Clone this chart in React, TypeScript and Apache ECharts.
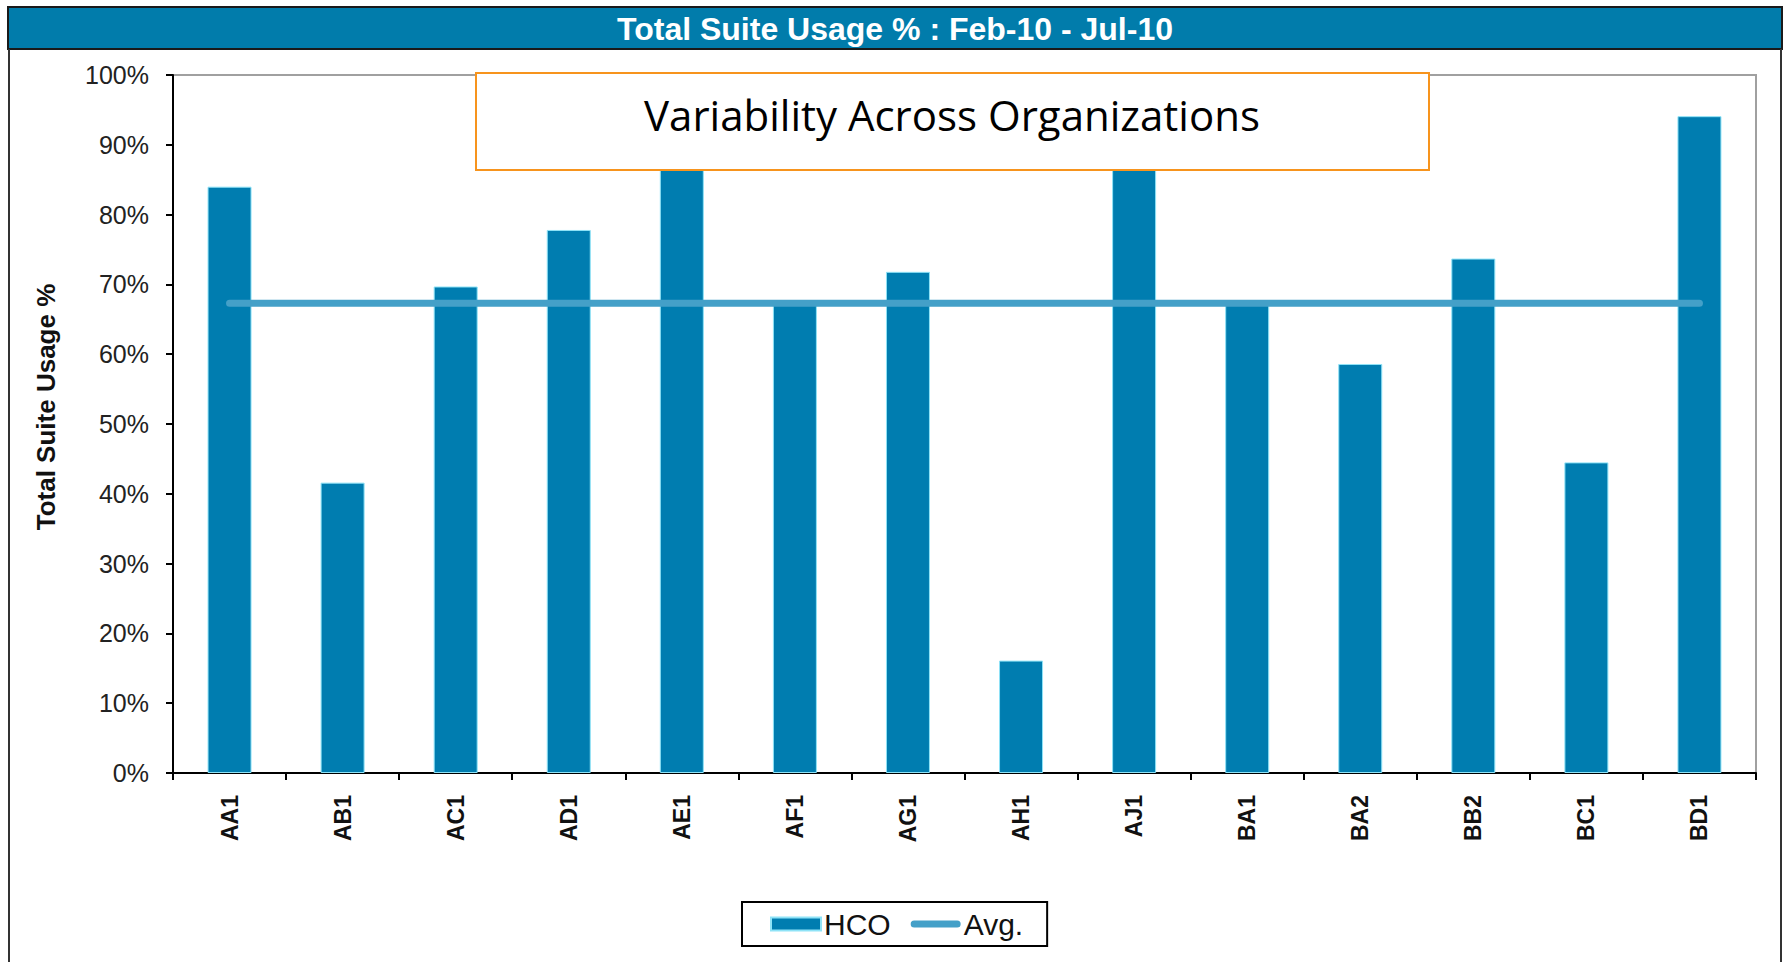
import React, { useEffect, useRef } from "react";
import * as echarts from "echarts";

const categories = ["AA1", "AB1", "AC1", "AD1", "AE1", "AF1", "AG1", "AH1", "AJ1", "BA1", "BA2", "BB2", "BC1", "BD1"];
const hcoValues = [84.0, 41.6, 69.7, 77.8, 88.0, 67.5, 71.8, 16.1, 90.0, 67.5, 58.6, 73.7, 44.5, 94.1];
const avgValues = [67.3, 67.3, 67.3, 67.3, 67.3, 67.3, 67.3, 67.3, 67.3, 67.3, 67.3, 67.3, 67.3, 67.3];
const yTicks = [0, 10, 20, 30, 40, 50, 60, 70, 80, 90, 100];

const titleText = "Total Suite Usage % : Feb-10 - Jul-10";
const calloutText = "Variability Across Organizations";
const yAxisName = "Total Suite Usage %";

const FONT = "Liberation Sans, Arial, sans-serif";

export default function App() {
  const ref = useRef<HTMLDivElement>(null);
  useEffect(() => {
    if (!ref.current) return;
    const chart = echarts.init(ref.current, undefined, { renderer: "svg" });
    const W = 1784;
    chart.setOption({
      animation: false,
      backgroundColor: "#ffffff",
      textStyle: { fontFamily: FONT },
      grid: {
        left: 173,
        top: 75,
        right: 28,
        bottom: 189,
        show: true,
        borderColor: "#a0a0a0",
        borderWidth: 2,
        backgroundColor: "transparent",
      },
      legend: {
        top: 902,
        left: 742,
        data: [
          { name: "HCO", icon: "rect" },
          {
            name: "Avg.",
            icon: "path://M0,0 M50,13 M3.5,3 L46.5,3 A3.5,3.5 0 0 1 46.5,10 L3.5,10 A3.5,3.5 0 0 1 3.5,3 Z",
          },
        ],
        borderColor: "#000",
        borderWidth: 2,
        padding: [7, 24, 7, 28],
        itemGap: 20,
        itemWidth: 50,
        itemHeight: 13,
        textStyle: { fontSize: 30, color: "#111", fontFamily: FONT, padding: [0, 0, 0, -2] },
      },
      xAxis: {
        type: "category",
        data: categories,
        boundaryGap: true,
        axisLine: { lineStyle: { color: "#000", width: 2 } },
        axisTick: { show: true, length: 7, lineStyle: { color: "#000", width: 2 } },
        axisLabel: {
          rotate: 90,
          margin: 22,
          fontSize: 23,
          fontWeight: "bold",
          color: "#111",
          fontFamily: FONT,
        },
        splitLine: { show: false },
      },
      yAxis: {
        type: "value",
        min: yTicks[0],
        max: yTicks[yTicks.length - 1],
        interval: 10,
        axisLine: { show: true, lineStyle: { color: "#000", width: 2 } },
        axisTick: { show: true, length: 7, lineStyle: { color: "#000", width: 2 } },
        axisLabel: {
          formatter: (v: number) => v + "%",
          fontSize: 25,
          color: "#222",
          margin: 24,
          fontFamily: FONT,
        },
        splitLine: { show: false },
      },
      series: [
        {
          name: "HCO",
          type: "bar",
          data: hcoValues,
          barWidth: 44,
          itemStyle: { color: "#007DB0", borderColor: "#8fe3f7", borderWidth: 1 },
          z: 2,
        },
        {
          name: "Avg.",
          type: "line",
          data: avgValues,
          symbol: "none",
          lineStyle: { color: "#44A0C8", width: 7, cap: "round" },
          itemStyle: { color: "#44A0C8" },
          z: 3,
        },
      ],
      graphic: [
        {
          type: "rect",
          shape: { x: 8, y: 7, width: W - 10, height: 42 },
          style: { fill: "#017CAB", stroke: "#1a1a1a", lineWidth: 2 },
          z: 10,
        },
        {
          type: "text",
          x: 895,
          y: 29,
          style: {
            text: titleText,
            fill: "#ffffff",
            font: "bold 32px 'Liberation Sans', Arial, sans-serif",
            align: "center",
            verticalAlign: "middle",
          },
          z: 11,
        },
        {
          type: "text",
          x: 46,
          y: 407,
          rotation: Math.PI / 2,
          style: {
            text: yAxisName,
            fill: "#111",
            font: "bold 26px 'Liberation Sans', Arial, sans-serif",
            align: "center",
            verticalAlign: "middle",
          },
          z: 11,
        },
        {
          type: "line",
          shape: { x1: 9, y1: 49, x2: 9, y2: 962 },
          style: { stroke: "#333", lineWidth: 2 },
          z: 10,
        },
        {
          type: "line",
          shape: { x1: W - 3, y1: 49, x2: W - 3, y2: 962 },
          style: { stroke: "#333", lineWidth: 2 },
          z: 10,
        },
        {
          type: "rect",
          shape: { x: 476, y: 73, width: 953, height: 97 },
          style: { fill: "#ffffff", stroke: "#F7941D", lineWidth: 2 },
          z: 20,
        },
        {
          type: "text",
          x: 952,
          y: 114,
          style: {
            text: calloutText,
            fill: "#000",
            font: "42px 'Open Sans', 'Noto Sans', sans-serif",
            align: "center",
            verticalAlign: "middle",
          },
          z: 21,
        },
      ],
    });
    return () => chart.dispose();
  }, []);
  return (
    <div style={{ position: "absolute", left: 0, top: 0, width: 1784, height: 962 }}>
      <div ref={ref} style={{ width: 1784, height: 962 }} />
    </div>
  );
}
